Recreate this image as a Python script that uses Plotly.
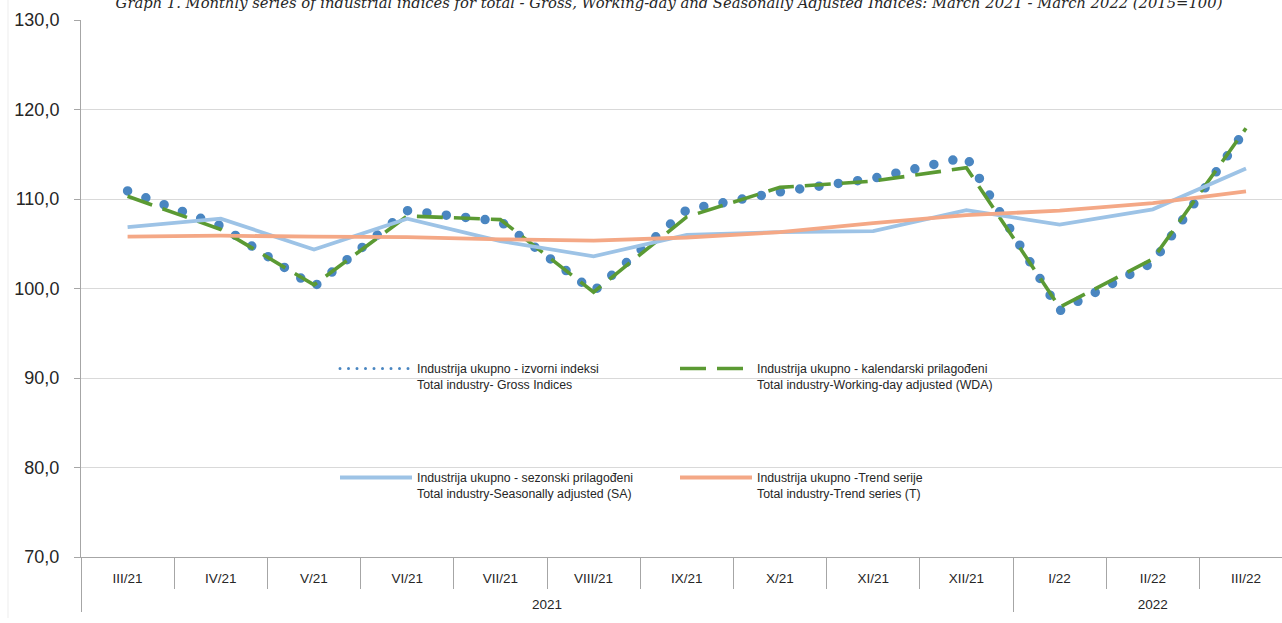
import plotly.graph_objects as go

# ---- data ----
months = ["III/21", "IV/21", "V/21", "VI/21", "VII/21", "VIII/21", "IX/21",
          "X/21", "XI/21", "XII/21", "I/22", "II/22", "III/22"]
years = ["2021"] * 10 + ["2022"] * 3

gross = [110.9, 107.0, 100.2, 108.7, 107.5, 99.7, 108.8, 110.8, 112.3, 114.7, 97.5, 102.9, 117.8]
wda = [110.3, 106.6, 100.4, 108.1, 107.7, 99.6, 108.0, 111.3, 112.0, 113.5, 97.9, 103.3, 117.9]
sa = [106.85, 107.8, 104.35, 107.8, 105.3, 103.6, 106.0, 106.3, 106.4, 108.75, 107.15, 108.85, 113.4]
trend = [105.8, 105.9, 105.8, 105.75, 105.5, 105.35, 105.7, 106.3, 107.3, 108.2, 108.7, 109.55, 110.85]

names = [
    "Industrija ukupno - izvorni indeksi<br>Total industry- Gross Indices",
    "Industrija ukupno - kalendarski prilagođeni<br>Total industry-Working-day adjusted (WDA)",
    "Industrija ukupno - sezonski prilagođeni<br>Total industry-Seasonally adjusted (SA)",
    "Industrija ukupno -Trend serije<br>Total industry-Trend series (T)",
]
title_text = ("Graph 1. Monthly series of industrial indices for total - Gross, Working-day and "
              "Seasonally Adjusted Indices: March 2021 - March 2022 (2015=100)")

C_GROSS = "#4A86C1"
C_WDA = "#5B9A33"
C_SA = "#9DC3E6"
C_TREND = "#F4A886"

FONT = "Liberation Sans"
TXT = "#262626"

# year group labels pushed one line lower, like the reference's second label row
x = [["<br>" + y for y in years], months]

fig = go.Figure()
fig.add_trace(go.Scatter(x=x, y=gross, mode="lines", name=names[0], legend="legend",
                         line=dict(color=C_GROSS, width=9.5, dash="0px,19.5px")))
fig.add_trace(go.Scatter(x=x, y=wda, mode="lines", name=names[1], legend="legend",
                         line=dict(color=C_WDA, width=3.6, dash="26px,11px")))
fig.add_trace(go.Scatter(x=x, y=sa, mode="lines", name=names[2], legend="legend2",
                         line=dict(color=C_SA, width=3.8)))
fig.add_trace(go.Scatter(x=x, y=trend, mode="lines", name=names[3], legend="legend2",
                         line=dict(color=C_TREND, width=3.8)))

W, H = 1282, 623
L, T, B = 81, 20, 66
plot_w = W - L
plot_h = H - T - B
cat_px = 93.2


def px_x(p):
    return (p - L) / plot_w


def px_y(p):
    return (H - B - p) / plot_h


legend_common = dict(
    orientation="h", xref="paper", yref="paper",
    xanchor="left", yanchor="top", entrywidth=253, entrywidthmode="pixels",
    itemwidth=72, valign="top", bgcolor="rgba(0,0,0,0)",
    font=dict(family=FONT, size=12.3, color=TXT), traceorder="normal",
    itemclick=False, itemdoubleclick=False,
)

fig.update_layout(
    width=W, height=H,
    margin=dict(l=L, r=0, t=T, b=B, autoexpand=False),
    paper_bgcolor="white", plot_bgcolor="white",
    separators=", ",
    showlegend=True,
    legend=dict(x=px_x(335), y=px_y(354), **legend_common),
    legend2=dict(x=px_x(335), y=px_y(463), **legend_common),
    title=dict(
        text=title_text, xref="container", yref="container",
        x=669 / W, y=1 - 7.5 / H, xanchor="center", yanchor="bottom",
        font=dict(family="DejaVu Serif", size=14.75, color=TXT, style="italic"),
    ),
    xaxis=dict(
        type="multicategory", automargin=False,
        range=[-0.5, -0.5 + plot_w / cat_px],
        showline=True, linecolor="#A6A6A6", linewidth=1,
        ticks="outside", ticklen=31, tickcolor="#A6A6A6", tickson="boundaries",
        ticklabelstandoff=9,
        showdividers=True, dividercolor="#A6A6A6", dividerwidth=1,
        showgrid=False,
        tickfont=dict(family=FONT, size=13.5, color=TXT),
    ),
    yaxis=dict(
        range=[70, 130], dtick=10, tick0=70, tickformat=".1f", automargin=False,
        showline=True, linecolor="#A6A6A6", linewidth=1,
        ticks="outside", ticklen=6, tickcolor="#A6A6A6", ticklabelstandoff=11,
        gridcolor="#D9D9D9", gridwidth=1, zeroline=False,
        tickfont=dict(family=FONT, size=18, color=TXT),
    ),
    shapes=[dict(type="line", xref="paper", yref="paper",
                 x0=px_x(8), x1=px_x(8), y0=px_y(0), y1=px_y(618),
                 line=dict(color="#EDEDED", width=1), layer="below")],
)

css = ("html,body{margin:0;padding:0;}"
       "g.scatterlayer g.trace:first-child path.js-line{stroke-linecap:round;}"
       "g.legend g.traces:first-child path.js-line{stroke-linecap:round;"
       "stroke-width:3px !important;stroke-dasharray:0px,8.5px !important;}")
post = ("var s=document.createElement('style');s.textContent='" + css +
        "';document.head.appendChild(s);")

fig.write_html("out.html", post_script=post, config={"displayModeBar": False})
